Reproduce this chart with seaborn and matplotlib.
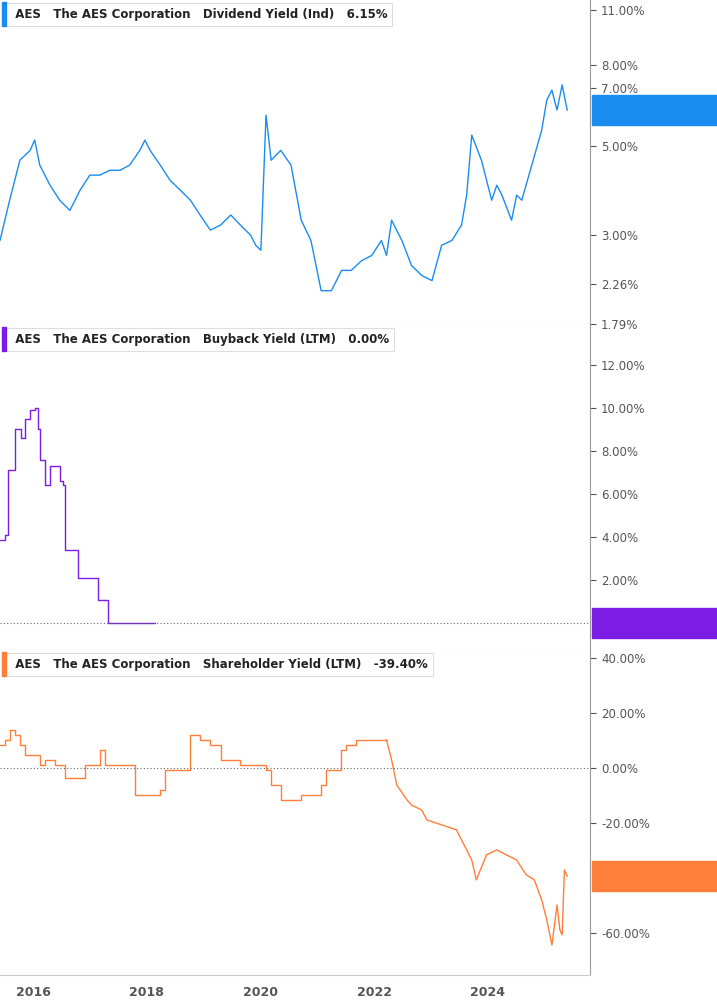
import matplotlib
matplotlib.use("Agg")
import matplotlib.pyplot as plt
import matplotlib.ticker as mticker
import matplotlib.transforms as mtrans
import seaborn as sns
import pandas as pd

# Dividend yield (%), decimal-year dates
div_t = [2015.42, 2015.59, 2015.77, 2015.95, 2016.03, 2016.12, 2016.30, 2016.47, 2016.65,
         2016.83, 2017.00, 2017.18, 2017.35, 2017.53, 2017.70, 2017.88, 2017.97, 2018.06,
         2018.24, 2018.41, 2018.59, 2018.77, 2018.94, 2019.12, 2019.30, 2019.48, 2019.65,
         2019.83, 2019.92, 2020.01, 2020.10, 2020.19, 2020.36, 2020.54, 2020.72, 2020.89,
         2020.98, 2021.07, 2021.25, 2021.43, 2021.60, 2021.78, 2021.96, 2022.13, 2022.22,
         2022.31, 2022.49, 2022.66, 2022.84, 2023.02, 2023.19, 2023.37, 2023.54, 2023.63,
         2023.72, 2023.89, 2024.07, 2024.16, 2024.25, 2024.42, 2024.51, 2024.60, 2024.95,
         2025.04, 2025.13, 2025.22, 2025.31, 2025.40]
div_v = [2.90, 3.66, 4.61, 4.88, 5.18, 4.48, 3.99, 3.66, 3.45, 3.88, 4.23, 4.23, 4.35,
         4.35, 4.48, 4.88, 5.18, 4.88, 4.48, 4.11, 3.88, 3.66, 3.36, 3.08, 3.17, 3.36,
         3.17, 2.99, 2.82, 2.74, 5.98, 4.61, 4.88, 4.48, 3.26, 2.90, 2.51, 2.17, 2.17,
         2.44, 2.44, 2.58, 2.66, 2.90, 2.66, 3.26, 2.90, 2.51, 2.37, 2.30, 2.82, 2.90,
         3.17, 3.77, 5.33, 4.61, 3.66, 3.99, 3.77, 3.26, 3.77, 3.66, 5.48, 6.53, 6.91,
         6.16, 7.12, 6.15]

# Buyback yield (%), step series
bb_t = [2015.42, 2015.51, 2015.56, 2015.68, 2015.79, 2015.86, 2015.95, 2016.03, 2016.09,
        2016.12, 2016.21, 2016.30, 2016.40, 2016.47, 2016.53, 2016.56, 2016.74, 2016.79,
        2017.09, 2017.15, 2017.27, 2017.32, 2018.15]
bb_v = [3.86, 4.1, 7.1, 9.0, 8.6, 9.5, 9.9, 10.0, 9.0, 7.6, 6.4, 7.3, 7.3, 6.6, 6.4,
        3.4, 3.4, 2.1, 2.1, 1.07, 1.07, 0.0, 0.0]

# Shareholder yield (%): stepped until early 2022, daily after
sh_step_t = [2015.42, 2015.51, 2015.59, 2015.68, 2015.77, 2015.86, 2016.03, 2016.12, 2016.21,
             2016.38, 2016.47, 2016.56, 2016.83, 2016.91, 2017.09, 2017.18, 2017.27, 2017.71,
             2017.80, 2018.06, 2018.24, 2018.33, 2018.59, 2018.77, 2018.94, 2019.12, 2019.21,
             2019.30, 2019.56, 2019.65, 2019.83, 2020.10, 2020.19, 2020.36, 2020.71, 2021.07,
             2021.15, 2021.42, 2021.51, 2021.69, 2022.22]
sh_step_v = [8.4, 10.2, 13.8, 12.0, 8.4, 4.7, 4.7, 1.0, 2.9, 1.0, 1.0, -3.6, -3.6, 1.0, 1.0,
             6.5, 1.0, 1.0, -9.8, -9.8, -8.0, -0.7, -0.7, 12.0, 10.2, 8.4, 8.4, 2.9, 2.9, 1.0,
             1.0, -0.7, -6.2, -11.6, -9.8, -6.2, -0.7, 6.5, 8.4, 10.2, 10.2]
sh_t = [2022.22, 2022.31, 2022.40, 2022.58, 2022.66, 2022.84, 2022.93, 2023.19, 2023.45,
        2023.63, 2023.72, 2023.80, 2023.98, 2024.16, 2024.33, 2024.51, 2024.68, 2024.82,
        2024.95, 2025.04, 2025.13, 2025.22, 2025.27, 2025.31, 2025.35, 2025.40]
sh_v = [10.2, 2.9, -6.2, -11.6, -13.5, -15.3, -18.9, -20.7, -22.5, -29.8, -33.5, -40.7,
        -31.6, -29.8, -31.6, -33.5, -38.9, -40.7, -48.0, -55.3, -64.4, -49.8, -58.9,
        -60.7, -37.1, -39.4]

BLUE = "#1a8cf0"
PURPLE = "#7c1de6"
ORANGE = "#ff7f3a"
GRID_TXT = "#555555"

sns.set_style("white")
fig = plt.figure(figsize=(7.17, 10.05), dpi=100)
W = 590 / 717
axes = [fig.add_axes([0, 1 - 325 / 1005, W, 325 / 1005]),
        fig.add_axes([0, 1 - 650 / 1005, W, 325 / 1005]),
        fig.add_axes([0, 1 - 975 / 1005, W, 325 / 1005])]

panels = [
    (div_t, div_v, BLUE, "Dividend Yield (Ind)", "6.15%", "Div Yld (Ind)\n6.15%", "default"),
    (bb_t, bb_v, PURPLE, "Buyback Yield (LTM)", "0.00%", "Buyback Yield (LTM)\n0.00%", "steps-post"),
    (sh_t, sh_v, ORANGE, "Shareholder Yield (LTM)", "-39.40%", "Shr Yld (LTM)\n-39.40%", "default"),
]

for ax, (t, v, col, name, val, badge, ds) in zip(axes, panels):
    df = pd.DataFrame({"t": t, "v": v})
    sns.lineplot(data=df, x="t", y="v", ax=ax, color=col, linewidth=1.0, drawstyle=ds)
    ax.set_xlim(2015.42, 2025.8)
    ax.set_xlabel("")
    ax.set_ylabel("")
    ax.yaxis.tick_right()
    ax.tick_params(axis="y", labelsize=8.5, colors=GRID_TXT, length=4, pad=4)
    for s in ["top", "left"]:
        ax.spines[s].set_visible(False)
    ax.spines["right"].set_color("#999999")
    ax.spines["bottom"].set_color("#cccccc")
    ax.set_xticks([2016, 2018, 2020, 2022, 2024])
    ax.tick_params(axis="x", length=0)
    ax.set_xticklabels([])
    # header label
    ax.text(0.012, 0.955, "  AES   The AES Corporation   %s   %s" % (name, val),
            transform=ax.transAxes, fontsize=8.5, fontweight="bold", va="center",
            ha="left", color="#222222",
            bbox=dict(boxstyle="square,pad=0.4", fc="white", ec="#dddddd", lw=0.8))
    ax.add_patch(plt.Rectangle((0.004, 0.92), 0.007, 0.075, transform=ax.transAxes,
                               color=col, clip_on=False, zorder=5))

    # right badge spanning to figure edge
    def add_badge(ax=ax, col=col, badge=badge, yv=v[-1]):
        tr = mtrans.blended_transform_factory(ax.transAxes, ax.transData)
        ax.annotate("", xy=(1.0, yv), xycoords=tr)
        off = mtrans.offset_copy(tr, fig=fig, y=0, units="points")
        rect = plt.Rectangle((1.0, 0), 717 / 590 - 1.0, 1, transform=off,
                             color=col, clip_on=False, zorder=6)
        return rect
    tr = mtrans.blended_transform_factory(ax.transAxes, ax.transData)
    yv = v[-1]
    ylo, yhi = ax.get_ylim()
    ax.text(1.0 + (717 / 590 - 1.0) / 2, yv, badge, transform=tr, ha="center", va="center",
            fontsize=7.5, fontweight="bold", color="white", linespacing=1.1, zorder=7,
            clip_on=False)
    ax._badge = (col, yv)

ax1, ax2, ax3 = axes
sns.lineplot(x=sh_step_t, y=sh_step_v, ax=ax3, color=ORANGE, linewidth=1.0,
             drawstyle="steps-post")

ax1.set_yscale("log")
ax1.set_ylim(1.78, 11.63)
ax1.yaxis.set_major_locator(mticker.FixedLocator([11, 8, 7, 5, 3, 2.26, 1.79]))
ax1.yaxis.set_minor_locator(mticker.NullLocator())
ax1.yaxis.set_major_formatter(mticker.FuncFormatter(lambda y, _: f"{y:.2f}%"))

ax2.set_ylim(-1.26, 13.86)
ax2.set_yticks([2, 4, 6, 8, 10, 12])
ax2.yaxis.set_major_formatter(mticker.FuncFormatter(lambda y, _: f"{y:.2f}%"))
ax2.axhline(0, color="#666666", lw=0.8, ls=(0, (1, 2)))

ax3.set_ylim(-75.3, 42.9)
ax3.set_yticks([-60, -20, 0, 20, 40])
ax3.yaxis.set_major_formatter(mticker.FuncFormatter(lambda y, _: f"{y:.2f}%"))
ax3.axhline(0, color="#666666", lw=0.8, ls=(0, (1, 2)))
ax3.set_xticks([2016, 2018, 2020, 2022, 2024])
ax3.set_xticklabels(["2016", "2018", "2020", "2022", "2024"], fontsize=9,
                    fontweight="bold", color=GRID_TXT)
ax3.tick_params(axis="x", pad=8, length=0)

# badge backgrounds: 30 px tall boxes from axis edge to figure edge
fig.canvas.draw()
for ax in axes:
    col, yv = ax._badge
    _, py = ax.transData.transform((2020, yv))
    fy = py / fig.bbox.height
    fig.patches.append(plt.Rectangle((592 / 717, fy - 15 / 1005), 125 / 717, 30 / 1005,
                                     transform=fig.transFigure, color=col, zorder=0))

fig.savefig("out.png", dpi=100)
